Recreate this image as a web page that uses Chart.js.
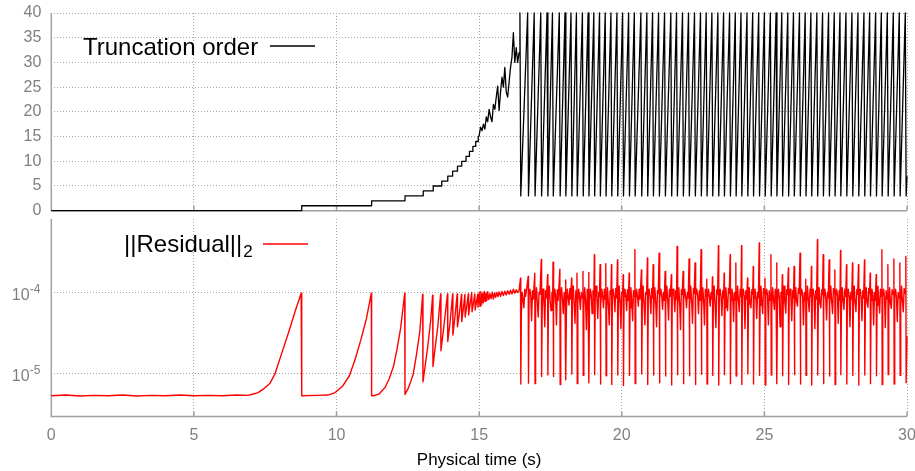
<!DOCTYPE html>
<html><head><meta charset="utf-8">
<script src="https://cdn.jsdelivr.net/npm/chart.js@4/dist/chart.umd.min.js"></script>
<style>
html,body{margin:0;padding:0;background:#fff;}
#wrap{position:relative;width:915px;height:471px;overflow:hidden;background:#fff;}
canvas{position:absolute;left:0;top:0;}
</style></head><body>
<div id="wrap"><canvas id="bot" width="915" height="471"></canvas><canvas id="top" width="915" height="471"></canvas></div>
<script>
// ---------- tick labels ----------
const xTicks = [0, 5, 10, 15, 20, 25, 30];
const orderTicks = [0, 5, 10, 15, 20, 25, 30, 35, 40];
const resTicks = [1e-5, 1e-4];
const resTickBase = ['10', '10'];
const resTickExp = ['-5', '-4'];
const xTitle = 'Physical time (s)';
const orderLabel = 'Truncation order';
const resLabel = '||Residual||';
const resLabelSub = '2';

// ---------- truncation order: staircase ----------
const orderStepT = [0, 8.78, 8.78, 11.23, 11.23, 12.40, 12.40, 13.04, 13.04, 13.39, 13.39, 13.69, 13.69, 13.90, 13.90, 14.07, 14.07, 14.24, 14.24, 14.39, 14.39, 14.54, 14.54, 14.66, 14.66, 14.78, 14.78, 14.88, 14.88, 14.97, 14.97];
const orderStepV = [0, 0, 1, 1, 2, 2, 3, 3, 4, 4, 5, 5, 6, 6, 7, 7, 8, 8, 9, 9, 10, 10, 11, 11, 12, 12, 13, 13, 14, 14, 15];
// ---------- truncation order: noisy ramp ----------
const orderRampT = [15.00, 15.05, 15.10, 15.15, 15.20, 15.25, 15.30, 15.35, 15.40, 15.45, 15.50, 15.55, 15.60, 15.65, 15.70, 15.75, 15.80, 15.85, 15.90, 15.95, 16.00, 16.05, 16.10, 16.15, 16.20, 16.25, 16.30, 16.35, 16.40];
const orderRampV = [15.2, 16.9, 16.2, 17.5, 16.5, 19, 18, 20.5, 19, 18, 21.5, 20.5, 23, 25.2, 20.3, 24, 27, 25, 29, 24, 23, 26, 29, 31, 36, 30, 33, 30, 32];
// ---------- truncation order: sawtooth ----------
const orderCycT = [16.43, 16.46, 16.70, 16.73, 16.93, 16.96, 17.16, 17.19, 17.38, 17.41, 17.57, 17.60, 17.81, 17.84, 18.01, 18.04, 18.22, 18.25, 18.41, 18.44,
  18.62, 18.65, 18.82, 18.85, 19.02, 19.05, 19.22, 19.25, 19.42, 19.45, 19.62, 19.65, 19.83, 19.86, 20.03, 20.06,
  20.24, 20.27, 20.44, 20.47, 20.67, 20.70, 20.88, 20.91, 21.08, 21.11, 21.29, 21.32, 21.50, 21.53, 21.72, 21.75, 21.92, 21.95, 22.13, 22.16, 22.34, 22.37, 22.55, 22.58,
  22.76, 22.79, 22.96, 22.99, 23.16, 23.19, 23.37, 23.40, 23.57, 23.60, 23.78, 23.81, 23.98, 24.01, 24.18, 24.21, 24.39, 24.42, 24.59, 24.62, 24.80, 24.83,
  25.00, 25.03, 25.21, 25.24, 25.41, 25.44, 25.61, 25.64, 25.82, 25.85, 26.02, 26.05, 26.23, 26.26, 26.43, 26.46, 26.63, 26.66, 26.84, 26.87, 27.04, 27.07, 27.25, 27.28, 27.45, 27.48,
  27.65, 27.68, 27.86, 27.89, 28.07, 28.10, 28.28, 28.31, 28.49, 28.52, 28.69, 28.72, 28.90, 28.93, 29.10, 29.13, 29.31, 29.34, 29.52, 29.55, 29.73, 29.76, 29.94, 29.97, 30.00];
const orderCycV = [40, 3, 40, 3, 40, 3, 40, 3, 40, 3, 40, 3, 40, 3, 40, 3, 40, 3, 40, 3,
  40, 3, 40, 3, 40, 3, 40, 3, 40, 3, 40, 3, 40, 3, 40, 3,
  40, 3, 40, 3, 40, 3, 40, 3, 40, 3, 40, 3, 40, 3, 40, 3, 40, 3, 40, 3, 40, 3, 40, 3,
  40, 3, 40, 3, 40, 3, 40, 3, 40, 3, 40, 3, 40, 3, 40, 3, 40, 3, 40, 3, 40, 3,
  40, 3, 40, 3, 40, 3, 40, 3, 40, 3, 40, 3, 40, 3, 40, 3, 40, 3, 40, 3, 40, 3, 40, 3, 40, 3,
  40, 3, 40, 3, 40, 3, 40, 3, 40, 3, 40, 3, 40, 3, 40, 3, 40, 3, 40, 3, 40, 3, 40, 3, 7];

// ---------- residual: quiet phase with growth ramps ----------
const resQuietT = [0, 0.5, 1, 1.5, 2, 2.5, 3, 3.5, 4, 4.5, 5, 5.5, 6, 6.5, 6.9, 7.08, 7.25, 7.43, 7.67, 7.84, 8.08, 8.31, 8.55, 8.76, 8.78,
  9.3, 9.7, 9.95, 10.2, 10.45, 10.65, 10.85, 11.05, 11.22, 11.23,
  11.3, 11.5, 11.7, 11.85, 12.0, 12.12, 12.25, 12.39, 12.40,
  12.5, 12.6, 12.69, 12.8, 12.92, 13.02, 13.03,
  13.1, 13.2, 13.3, 13.37, 13.38,
  13.45, 13.55, 13.65, 13.66,
  13.75, 13.89, 13.90,
  13.98, 14.07, 14.08,
  14.15, 14.23, 14.24,
  14.32, 14.38, 14.39,
  14.45, 14.50, 14.51,
  14.57, 14.62, 14.63,
  14.74, 14.75,
  14.85, 14.86,
  14.95, 14.96];
const resQuietV = [5.4e-6, 5.5e-6, 5.35e-6, 5.45e-6, 5.4e-6, 5.5e-6, 5.35e-6, 5.45e-6, 5.4e-6, 5.5e-6, 5.4e-6, 5.45e-6, 5.4e-6, 5.5e-6, 5.45e-6, 5.67e-6, 5.9e-6, 6.5e-6, 7.7e-6, 1.0e-5, 1.8e-5, 3.16e-5, 5.9e-5, 9.8e-5, 5.4e-6,
  5.45e-6, 5.5e-6, 5.9e-6, 7.0e-6, 9.5e-6, 1.5e-5, 2.6e-5, 4.8e-5, 9.8e-5, 5.4e-6,
  5.4e-6, 5.7e-6, 6.8e-6, 8.8e-6, 1.25e-5, 2.0e-5, 3.7e-5, 9.8e-5, 5.6e-6,
  6.5e-6, 8e-6, 1.0e-5, 1.7e-5, 3.3e-5, 9.5e-5, 8e-6,
  1.2e-5, 2.2e-5, 4.5e-5, 9.3e-5, 1.23e-5,
  2.0e-5, 3.8e-5, 9.6e-5, 1.93e-5,
  3.5e-5, 9.6e-5, 2.5e-5,
  4.3e-5, 9.6e-5, 3.0e-5,
  5e-5, 9.6e-5, 3.8e-5,
  6e-5, 9.5e-5, 4.4e-5,
  6.5e-5, 9.5e-5, 5.0e-5,
  7e-5, 9.6e-5, 5.3e-5,
  1.0e-4, 5.8e-5,
  9.6e-5, 6.1e-5,
  9.5e-5, 6.6e-5];
// ---------- residual: saturated band ----------
const resBandT = [15.00, 15.03, 15.06, 15.09, 15.12, 15.15, 15.18, 15.21, 15.24, 15.27, 15.30, 15.34, 15.38, 15.42, 15.46, 15.50, 15.54, 15.58, 15.62, 15.66, 15.70, 15.75, 15.80, 15.85, 15.90, 15.95, 16.00, 16.05, 16.10, 16.15, 16.20, 16.25, 16.30, 16.35, 16.40];
const resBandV = [1.0e-4, 6.8e-5, 1.02e-4, 7.2e-5, 9.8e-5, 7.5e-5, 1.03e-4, 7.8e-5, 9.9e-5, 8.0e-5, 1.02e-4, 8.2e-5, 9.7e-5, 8.4e-5, 1.01e-4, 8.3e-5, 9.9e-5, 8.7e-5, 1.0e-4, 8.9e-5, 1.02e-4, 9.0e-5, 1.03e-4, 9.2e-5, 1.04e-4, 9.3e-5, 1.05e-4, 9.5e-5, 1.07e-4, 9.6e-5, 1.1e-4, 9.8e-5, 1.08e-4, 1.0e-4, 1.06e-4];
// ---------- residual: oscillating phase (one row per cycle) ----------
const resCycT = [
  16.45, 16.46, 16.48, 16.51, 16.54, 16.57, 16.60, 16.63,
  16.72, 16.73, 16.75, 16.78, 16.81, 16.84, 16.87, 16.90,
  16.95, 16.96, 16.98, 17.01, 17.04, 17.07, 17.10, 17.13,
  17.18, 17.19, 17.21, 17.24, 17.27, 17.30, 17.33, 17.36,
  17.40, 17.41, 17.43, 17.46, 17.49, 17.52, 17.55, 17.58,
  17.59, 17.60, 17.62, 17.65, 17.68, 17.71, 17.74, 17.77,
  17.83, 17.84, 17.86, 17.89, 17.92, 17.95, 17.98, 18.01,
  18.03, 18.04, 18.06, 18.09, 18.12, 18.15, 18.18, 18.21,
  18.24, 18.25, 18.27, 18.30, 18.33, 18.36, 18.39, 18.42,
  18.43, 18.44, 18.46, 18.49, 18.52, 18.55, 18.58, 18.61,
  18.64, 18.65, 18.67, 18.70, 18.73, 18.76, 18.79, 18.82,
  18.84, 18.85, 18.87, 18.90, 18.93, 18.96, 18.99, 19.02,
  19.04, 19.05, 19.07, 19.10, 19.13, 19.16, 19.19, 19.22,
  19.24, 19.25, 19.27, 19.30, 19.33, 19.36, 19.39, 19.42,
  19.44, 19.45, 19.47, 19.50, 19.53, 19.56, 19.59, 19.62,
  19.64, 19.65, 19.67, 19.70, 19.73, 19.76, 19.79, 19.82,
  19.85, 19.86, 19.88, 19.91, 19.94, 19.97, 20.00, 20.03,
  20.05, 20.06, 20.08, 20.11, 20.14, 20.17, 20.20, 20.23,
  20.26, 20.27, 20.29, 20.32, 20.35, 20.38, 20.41, 20.44,
  20.46, 20.47, 20.49, 20.52, 20.55, 20.58, 20.61, 20.64,
  20.69, 20.70, 20.72, 20.75, 20.78, 20.81, 20.84, 20.87,
  20.90, 20.91, 20.93, 20.96, 20.99, 21.02, 21.05, 21.08,
  21.10, 21.11, 21.13, 21.16, 21.19, 21.22, 21.25, 21.28,
  21.31, 21.32, 21.34, 21.37, 21.40, 21.43, 21.46, 21.49,
  21.52, 21.53, 21.55, 21.58, 21.61, 21.64, 21.67, 21.70,
  21.74, 21.75, 21.77, 21.80, 21.83, 21.86, 21.89, 21.92,
  21.94, 21.95, 21.97, 22.00, 22.03, 22.06, 22.09, 22.12,
  22.15, 22.16, 22.18, 22.21, 22.24, 22.27, 22.30, 22.33,
  22.36, 22.37, 22.39, 22.42, 22.45, 22.48, 22.51, 22.54,
  22.57, 22.58, 22.60, 22.63, 22.66, 22.69, 22.72, 22.75,
  22.78, 22.79, 22.81, 22.84, 22.87, 22.90, 22.93, 22.96,
  22.98, 22.99, 23.01, 23.04, 23.07, 23.10, 23.13, 23.16,
  23.18, 23.19, 23.21, 23.24, 23.27, 23.30, 23.33, 23.36,
  23.39, 23.40, 23.42, 23.45, 23.48, 23.51, 23.54, 23.57,
  23.59, 23.60, 23.62, 23.65, 23.68, 23.71, 23.74, 23.77,
  23.80, 23.81, 23.83, 23.86, 23.89, 23.92, 23.95, 23.98,
  24.00, 24.01, 24.03, 24.06, 24.09, 24.12, 24.15, 24.18,
  24.20, 24.21, 24.23, 24.26, 24.29, 24.32, 24.35, 24.38,
  24.41, 24.42, 24.44, 24.47, 24.50, 24.53, 24.56, 24.59,
  24.61, 24.62, 24.64, 24.67, 24.70, 24.73, 24.76, 24.79,
  24.82, 24.83, 24.85, 24.88, 24.91, 24.94, 24.97, 25.00,
  25.02, 25.03, 25.05, 25.08, 25.11, 25.14, 25.17, 25.20,
  25.23, 25.24, 25.26, 25.29, 25.32, 25.35, 25.38, 25.41,
  25.43, 25.44, 25.46, 25.49, 25.52, 25.55, 25.58, 25.61,
  25.63, 25.64, 25.66, 25.69, 25.72, 25.75, 25.78, 25.81,
  25.84, 25.85, 25.87, 25.90, 25.93, 25.96, 25.99, 26.02,
  26.04, 26.05, 26.07, 26.10, 26.13, 26.16, 26.19, 26.22,
  26.25, 26.26, 26.28, 26.31, 26.34, 26.37, 26.40, 26.43,
  26.45, 26.46, 26.48, 26.51, 26.54, 26.57, 26.60, 26.63,
  26.65, 26.66, 26.68, 26.71, 26.74, 26.77, 26.80, 26.83,
  26.86, 26.87, 26.89, 26.92, 26.95, 26.98, 27.01, 27.04,
  27.06, 27.07, 27.09, 27.12, 27.15, 27.18, 27.21, 27.24,
  27.27, 27.28, 27.30, 27.33, 27.36, 27.39, 27.42, 27.45,
  27.47, 27.48, 27.50, 27.53, 27.56, 27.59, 27.62, 27.65,
  27.67, 27.68, 27.70, 27.73, 27.76, 27.79, 27.82, 27.85,
  27.88, 27.89, 27.91, 27.94, 27.97, 28.00, 28.03, 28.06,
  28.09, 28.10, 28.12, 28.15, 28.18, 28.21, 28.24, 28.27,
  28.30, 28.31, 28.33, 28.36, 28.39, 28.42, 28.45, 28.48,
  28.51, 28.52, 28.54, 28.57, 28.60, 28.63, 28.66, 28.69,
  28.71, 28.72, 28.74, 28.77, 28.80, 28.83, 28.86, 28.89,
  28.92, 28.93, 28.95, 28.98, 29.01, 29.04, 29.07, 29.10,
  29.12, 29.13, 29.15, 29.18, 29.21, 29.24, 29.27, 29.30,
  29.33, 29.34, 29.36, 29.39, 29.42, 29.45, 29.48, 29.51,
  29.54, 29.55, 29.57, 29.60, 29.63, 29.66, 29.69, 29.72,
  29.75, 29.76, 29.78, 29.81, 29.84, 29.87, 29.90, 29.93,
  29.96, 29.97, 30.00];
const resCycV = [
  1.5e-4, 7.5e-6, 5.6e-5, 1.0e-4, 8.2e-5, 6.5e-5, 1.1e-4, 9.0e-5,
  1.58e-4, 7.7e-6, 1.0e-4, 1.1e-4, 9.0e-5, 4.5e-5, 1.05e-4, 8.3e-5,
  1.73e-4, 7.6e-6, 8e-5, 1.15e-4, 7.4e-5, 5e-5, 1.0e-4, 9.5e-5,
  2.55e-4, 9.3e-6, 6e-5, 1.1e-4, 8.8e-5, 3.8e-5, 1.05e-4, 8.6e-5,
  1.66e-4, 9.7e-6, 9e-5, 1.2e-4, 7.8e-5, 6e-5, 1.0e-4, 9.8e-5,
  2.36e-4, 9.3e-6, 7e-5, 1.1e-4, 9.3e-5, 4e-5, 1.08e-4, 8.0e-5,
  1.94e-4, 7.4e-6, 8.5e-5, 1.15e-4, 8.2e-5, 5.5e-5, 1.0e-4, 9.0e-5,
  1.43e-4, 8.5e-6, 6e-5, 1.1e-4, 9.0e-5, 7e-5, 1.12e-4, 8.3e-5,
  1.5e-4, 1.0e-5, 9e-5, 1.2e-4, 7.4e-5, 4.2e-5, 1.05e-4, 9.5e-5,
  1.73e-4, 7.6e-6, 7.5e-5, 1.1e-4, 8.8e-5, 6.2e-5, 1.0e-4, 8.6e-5,
  1.81e-4, 9.6e-6, 6.5e-5, 1.15e-4, 7.8e-5, 3.5e-5, 1.1e-4, 9.8e-5,
  1.76e-4, 7.8e-6, 8e-5, 1.1e-4, 9.3e-5, 5.5e-5, 1.05e-4, 8.0e-5,
  2.91e-4, 9.8e-6, 9e-5, 1.2e-4, 8.2e-5, 4.8e-5, 1.0e-4, 9.0e-5,
  2.19e-4, 7.5e-6, 7e-5, 1.1e-4, 9.0e-5, 6.5e-5, 1.1e-4, 8.3e-5,
  2.26e-4, 9.5e-6, 6e-5, 1.15e-4, 7.4e-5, 4e-5, 1.05e-4, 9.5e-5,
  2.19e-4, 7.4e-6, 8.5e-5, 1.1e-4, 8.8e-5, 5.8e-5, 1.12e-4, 8.6e-5,
  2.52e-4, 9.7e-6, 7e-5, 1.2e-4, 7.8e-5, 3.6e-5, 1.0e-4, 9.8e-5,
  1.65e-4, 7.2e-6, 9e-5, 1.1e-4, 9.3e-5, 6e-5, 1.08e-4, 8.0e-5,
  1.73e-4, 9.6e-6, 6.5e-5, 1.15e-4, 8.2e-5, 4.5e-5, 1.05e-4, 9.0e-5,
  3.35e-4, 7.6e-6, 8e-5, 1.1e-4, 9.0e-5, 6.8e-5, 1.1e-4, 8.3e-5,
  1.9e-4, 1.0e-5, 7e-5, 1.2e-4, 7.4e-5, 4e-5, 1.0e-4, 9.5e-5,
  2.65e-4, 7.4e-6, 9e-5, 1.1e-4, 8.8e-5, 5.5e-5, 1.12e-4, 8.6e-5,
  2.19e-4, 9.7e-6, 6e-5, 1.15e-4, 7.8e-5, 3.8e-5, 1.05e-4, 9.8e-5,
  3.05e-4, 7.8e-6, 8.5e-5, 1.1e-4, 9.3e-5, 6.2e-5, 1.0e-4, 8.0e-5,
  1.81e-4, 9.4e-6, 7e-5, 1.2e-4, 8.2e-5, 4.6e-5, 1.1e-4, 9.0e-5,
  1.65e-4, 7.3e-6, 9e-5, 1.1e-4, 9.0e-5, 5.8e-5, 1.05e-4, 8.3e-5,
  3.68e-4, 9.8e-6, 6.5e-5, 1.15e-4, 7.4e-5, 3.5e-5, 1.08e-4, 9.5e-5,
  1.81e-4, 7.6e-6, 8e-5, 1.1e-4, 8.8e-5, 6.5e-5, 1.0e-4, 8.6e-5,
  2.58e-4, 9.5e-6, 7e-5, 1.2e-4, 7.8e-5, 4.2e-5, 1.12e-4, 9.8e-5,
  2.3e-4, 7.4e-6, 9e-5, 1.1e-4, 9.3e-5, 5.5e-5, 1.05e-4, 8.0e-5,
  3.35e-4, 9.9e-6, 6e-5, 1.15e-4, 8.2e-5, 4e-5, 1.1e-4, 9.0e-5,
  1.46e-4, 7.5e-6, 8.5e-5, 1.1e-4, 9.0e-5, 6.8e-5, 1.0e-4, 8.3e-5,
  1.55e-4, 9.6e-6, 7e-5, 1.2e-4, 7.4e-5, 3.7e-5, 1.08e-4, 9.5e-5,
  3.75e-4, 7.3e-6, 9e-5, 1.1e-4, 8.8e-5, 5.2e-5, 1.05e-4, 8.6e-5,
  1.73e-4, 9.8e-6, 6.5e-5, 1.15e-4, 7.8e-5, 6e-5, 1.12e-4, 9.8e-5,
  2.91e-4, 7.6e-6, 8e-5, 1.1e-4, 9.3e-5, 4.4e-5, 1.0e-4, 8.0e-5,
  2.3e-4, 9.4e-6, 7e-5, 1.2e-4, 8.2e-5, 5.8e-5, 1.1e-4, 9.0e-5,
  3.75e-4, 7.4e-6, 9e-5, 1.1e-4, 9.0e-5, 3.6e-5, 1.05e-4, 8.3e-5,
  1.5e-4, 1.0e-5, 6e-5, 1.15e-4, 7.4e-5, 6.5e-5, 1.08e-4, 9.5e-5,
  2.09e-4, 7.5e-6, 8.5e-5, 1.1e-4, 8.8e-5, 4.8e-5, 1.0e-4, 8.6e-5,
  4.06e-4, 9.6e-6, 7e-5, 1.2e-4, 7.8e-5, 5.5e-5, 1.12e-4, 9.8e-5,
  1.5e-4, 7.3e-6, 9e-5, 1.1e-4, 9.3e-5, 4e-5, 1.05e-4, 8.0e-5,
  2.91e-4, 9.7e-6, 6.5e-5, 1.15e-4, 8.2e-5, 6.2e-5, 1.1e-4, 9.0e-5,
  2.3e-4, 7.6e-6, 8e-5, 1.1e-4, 9.0e-5, 3.8e-5, 1.0e-4, 8.3e-5,
  1.65e-4, 9.5e-6, 7e-5, 1.2e-4, 7.4e-5, 5.6e-5, 1.08e-4, 9.5e-5,
  2.0e-4, 7.4e-6, 9e-5, 1.1e-4, 8.8e-5, 4.5e-5, 1.05e-4, 8.6e-5,
  2.09e-4, 9.8e-6, 6e-5, 1.15e-4, 7.8e-5, 6.8e-5, 1.12e-4, 9.8e-5,
  3.05e-4, 7.5e-6, 8.5e-5, 1.1e-4, 9.3e-5, 4e-5, 1.0e-4, 8.0e-5,
  1.46e-4, 9.6e-6, 7e-5, 1.2e-4, 8.2e-5, 5.8e-5, 1.1e-4, 9.0e-5,
  2.09e-4, 7.3e-6, 9e-5, 1.1e-4, 9.0e-5, 3.6e-5, 1.05e-4, 8.3e-5,
  4.45e-4, 9.7e-6, 6.5e-5, 1.15e-4, 7.4e-5, 6.5e-5, 1.08e-4, 9.5e-5,
  2.91e-4, 7.6e-6, 8e-5, 1.1e-4, 8.8e-5, 4.6e-5, 1.0e-4, 8.6e-5,
  2.52e-4, 9.4e-6, 7e-5, 1.2e-4, 7.8e-5, 5.5e-5, 1.12e-4, 9.8e-5,
  1.9e-4, 7.4e-6, 9e-5, 1.1e-4, 9.3e-5, 4.2e-5, 1.05e-4, 8.0e-5,
  3.29e-4, 9.8e-6, 6e-5, 1.15e-4, 8.2e-5, 6.2e-5, 1.1e-4, 9.0e-5,
  2.19e-4, 7.5e-6, 8.5e-5, 1.1e-4, 9.0e-5, 3.8e-5, 1.0e-4, 8.3e-5,
  2.3e-4, 9.6e-6, 7e-5, 1.2e-4, 7.4e-5, 5.8e-5, 1.08e-4, 9.5e-5,
  2.19e-4, 7.3e-6, 9e-5, 1.1e-4, 8.8e-5, 4.5e-5, 1.05e-4, 8.6e-5,
  2.52e-4, 9.7e-6, 6.5e-5, 1.15e-4, 7.8e-5, 6.6e-5, 1.12e-4, 9.8e-5,
  1.73e-4, 7.6e-6, 8e-5, 1.1e-4, 9.3e-5, 4e-5, 1.0e-4, 8.0e-5,
  1.65e-4, 9.5e-6, 7e-5, 1.2e-4, 8.2e-5, 5.6e-5, 1.1e-4, 9.0e-5,
  3.35e-4, 7.4e-6, 9e-5, 1.1e-4, 9.0e-5, 3.7e-5, 1.05e-4, 8.3e-5,
  2.19e-4, 9.8e-6, 6e-5, 1.15e-4, 7.4e-5, 6.4e-5, 1.08e-4, 9.5e-5,
  2.58e-4, 7.5e-6, 8.5e-5, 1.1e-4, 8.8e-5, 4.4e-5, 1.0e-4, 8.6e-5,
  2.3e-4, 9.6e-6, 7e-5, 1.2e-4, 7.8e-5, 5.8e-5, 1.12e-4, 9.8e-5,
  2.77e-4, 7.8e-6, 2.9e-5];

// ---------- styling constants ----------
const FONT = '"Liberation Sans", Arial, Helvetica, sans-serif';
const GREY = '#808080';
const GRID = '#a8a8a8';
const AXIS = '#a0a0a0';
Chart.defaults.font.family = FONT;

function pts(T, V) { return T.map((t, i) => ({ x: t, y: V[i] })); }
const orderPts = pts(orderStepT.concat(orderRampT, orderCycT), orderStepV.concat(orderRampV, orderCycV));
const resPts = pts(resQuietT.concat(resBandT, resCycT), resQuietV.concat(resBandV, resCycV));

const decor = {
  id: 'decor',
  beforeDatasetsDraw(chart, args, opts) {
    const { ctx, chartArea: a } = chart;
    const x = chart.scales.x;
    ctx.save();
    ctx.strokeStyle = AXIS; ctx.lineWidth = 1.5;
    ctx.beginPath();
    ctx.moveTo(a.left, a.top); ctx.lineTo(a.left, a.bottom); ctx.lineTo(a.right, a.bottom);
    xTicks.forEach(v => { const px = x.getPixelForValue(v); ctx.moveTo(px, a.bottom); ctx.lineTo(px, a.bottom - 5); });
    ctx.stroke();
    ctx.restore();
  },
  afterDraw(chart, args, opts) {
    const { ctx, chartArea: a } = chart;
    ctx.save();
    ctx.textBaseline = 'alphabetic'; ctx.textAlign = 'left';
    ctx.fillStyle = '#000';
    ctx.font = '24px ' + FONT;
    ctx.fillText(opts.label, opts.lx, opts.ly);
    const endX = opts.lx + ctx.measureText(opts.label).width;
    if (opts.sub) {
      ctx.font = '17px ' + FONT;
      ctx.fillText(opts.sub, endX + 1, opts.ly + 5);
    }
    ctx.strokeStyle = opts.color; ctx.lineWidth = 1.3;
    ctx.beginPath(); ctx.moveTo(opts.sx0, opts.sy); ctx.lineTo(opts.sx1, opts.sy); ctx.stroke();
    if (opts.logLabels) {
      const y = chart.scales.y;
      ctx.fillStyle = GREY;
      resTicks.forEach((v, i) => {
        const py = y.getPixelForValue(v);
        ctx.font = '12px ' + FONT; const we = ctx.measureText(resTickExp[i]).width;
        ctx.font = '16px ' + FONT; const wb = ctx.measureText(resTickBase[i]).width;
        const right = a.left - 11;
        ctx.fillText(resTickBase[i], right - we - wb, py + 7);
        ctx.font = '12px ' + FONT;
        ctx.fillText(resTickExp[i], right - we, py);
      });
    }
    ctx.restore();
  }
};

function xAxis(show) {
  return {
    type: 'linear', min: 0, max: 30,
    afterBuildTicks: s => { s.ticks = xTicks.map(v => ({ value: v })); },
    ticks: { display: show, font: { size: 16 }, color: GREY, padding: 9, maxRotation: 0, autoSkip: false },
    grid: { color: GRID, lineWidth: 1, drawTicks: false },
    border: { display: false, dash: [1, 2] },
    title: { display: show, text: xTitle, color: '#000', font: { size: 17 }, padding: { top: 2, bottom: 0 } },
    afterFit: s => { s.height = show ? 54.5 : 0; s.paddingLeft = 0; s.paddingRight = 0; }
  };
}

new Chart(document.getElementById('top'), {
  type: 'line',
  data: { datasets: [{ data: orderPts, borderColor: '#000', borderWidth: 1.3, pointRadius: 0, tension: 0, borderJoinStyle: 'round', clip: 4 }] },
  options: {
    responsive: false, animation: false, devicePixelRatio: 1,
    layout: { padding: { left: 0, right: 8, top: 13, bottom: 260.3 } },
    plugins: { legend: { display: false }, tooltip: { enabled: false },
      decor: { label: orderLabel, lx: 83, ly: 54.5, sx0: 270, sx1: 315, sy: 46, color: '#000' } },
    scales: {
      x: xAxis(false),
      y: {
        type: 'linear', min: 0, max: 40,
        afterBuildTicks: s => { s.ticks = orderTicks.map(v => ({ value: v })); },
        ticks: { font: { size: 16 }, color: GREY, padding: 10 },
        grid: { color: GRID, lineWidth: 1, drawTicks: false },
        border: { display: false, dash: [1, 2] },
        afterFit: s => { s.width = 51.3; s.paddingTop = 0; s.paddingBottom = 0; }
      }
    }
  },
  plugins: [decor]
});

new Chart(document.getElementById('bot'), {
  type: 'line',
  data: { datasets: [{ data: resPts, borderColor: '#ff0000', borderWidth: 1.4, pointRadius: 0, tension: 0, borderJoinStyle: 'round', clip: 4 }] },
  options: {
    responsive: false, animation: false, devicePixelRatio: 1,
    layout: { padding: { left: 0, right: 8, top: 219, bottom: 0 } },
    plugins: { legend: { display: false }, tooltip: { enabled: false },
      decor: { label: resLabel, sub: resLabelSub, lx: 124, ly: 251.7, sx0: 263, sx1: 308, sy: 244, color: '#ff0000', logLabels: true } },
    scales: {
      x: xAxis(true),
      y: {
        type: 'logarithmic', min: 3e-6, max: 8e-4,
        afterBuildTicks: s => { s.ticks = resTicks.map(v => ({ value: v })); },
        ticks: { callback: () => '', font: { size: 16 }, color: GREY, padding: 10 },
        grid: { color: GRID, lineWidth: 1, drawTicks: false },
        border: { display: false, dash: [1, 2] },
        afterFit: s => { s.width = 51.3; s.paddingTop = 0; s.paddingBottom = 0; }
      }
    }
  },
  plugins: [decor]
});
</script>
</body></html>
